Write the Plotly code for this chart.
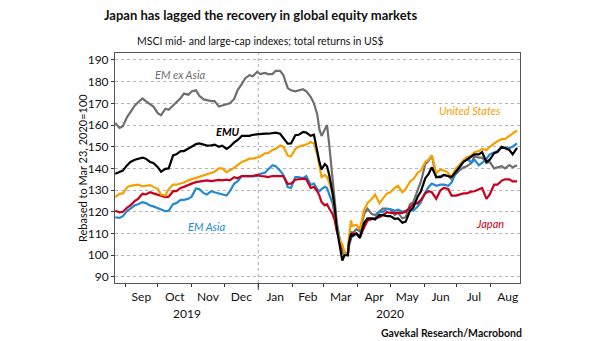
import plotly.graph_objects as go

dates = [
    # Aug 2019 - Feb 21 2020
    "2019-08-23", "2019-08-27", "2019-08-30", "2019-09-03", "2019-09-06", "2019-09-10",
    "2019-09-13", "2019-09-17", "2019-09-20", "2019-09-24", "2019-09-27", "2019-10-01",
    "2019-10-04", "2019-10-08", "2019-10-11", "2019-10-15", "2019-10-18", "2019-10-22",
    "2019-10-25", "2019-10-29", "2019-11-01", "2019-11-05", "2019-11-08", "2019-11-12",
    "2019-11-15", "2019-11-19", "2019-11-22", "2019-11-26", "2019-11-29", "2019-12-03",
    "2019-12-06", "2019-12-10", "2019-12-13", "2019-12-17", "2019-12-20", "2019-12-24",
    "2019-12-27", "2019-12-31", "2020-01-03", "2020-01-07", "2020-01-10", "2020-01-14",
    "2020-01-17", "2020-01-21", "2020-01-24", "2020-01-28", "2020-01-31", "2020-02-04",
    "2020-02-07", "2020-02-11", "2020-02-14", "2020-02-18", "2020-02-21",
    # crash
    "2020-02-24", "2020-02-26", "2020-02-28", "2020-03-02", "2020-03-04", "2020-03-06",
    "2020-03-09", "2020-03-11", "2020-03-13", "2020-03-16", "2020-03-18", "2020-03-20",
    "2020-03-23", "2020-03-24", "2020-03-26", "2020-03-27", "2020-03-31", "2020-04-03",
    "2020-04-07", "2020-04-10",
    # recovery
    "2020-04-14", "2020-04-17", "2020-04-21", "2020-04-24", "2020-04-28", "2020-05-01",
    "2020-05-05", "2020-05-08", "2020-05-12", "2020-05-15", "2020-05-19", "2020-05-22",
    "2020-05-26", "2020-05-29", "2020-06-02", "2020-06-05", "2020-06-08", "2020-06-12",
    "2020-06-16", "2020-06-19", "2020-06-23", "2020-06-26", "2020-06-30", "2020-07-03",
    "2020-07-07", "2020-07-10", "2020-07-14", "2020-07-17", "2020-07-21", "2020-07-24",
    "2020-07-28", "2020-07-31", "2020-08-04", "2020-08-07", "2020-08-11", "2020-08-14",
    "2020-08-18", "2020-08-21", "2020-08-25",
]

em_ex_asia = [
    161, 158.7, 159.5, 163.8, 166, 169, 170.5, 172.3, 171, 169.5,
    168.5, 165.5, 164.5, 167.5, 167, 169, 170.5, 172.5, 174.5, 174,
    175.5, 176, 173.5, 171.8, 171.5, 171, 171, 168.5, 169, 169.5,
    170, 172, 176, 179, 181.5, 183, 182.5, 184.5, 183.5, 184,
    183.5, 183.5, 185, 185, 183, 177, 176, 175.5, 176, 176.5,
    175.5, 173, 170,
    165, 158, 155, 158, 160, 151, 136, 124, 115, 106,
    101, 100.5, 100, 106, 111, 110, 112, 111, 119, 121.5,
    119, 118.5, 120, 121.5, 121.5, 121, 118.5, 119.5, 117, 117.5,
    123.5, 124.5, 130, 134, 142, 143.5, 146, 136, 136.5, 137,
    136.5, 135, 137.5, 139, 140.5, 141, 142.5, 145.5, 145, 145,
    142.5, 143, 140, 140.5, 141, 140, 141.5, 140.5, 141.5,
]

emu = [
    137.5, 138.3, 139, 141.5, 143, 144, 144.5, 145, 144.5, 143,
    142.5, 140.6, 138.5, 139.8, 140, 146, 146.5, 148, 148, 149,
    150, 151.2, 151.5, 151, 150.5, 150.6, 151, 150, 150.5, 149,
    150, 152, 153, 155, 155, 155, 155.5, 155.8, 156, 156,
    156, 156.3, 156.5, 156, 154, 151.4, 151.5, 155.3, 155.5, 156.8,
    156.5, 155, 155.5,
    147, 143, 139.5, 142, 141, 137, 129, 122, 112, 103,
    97.5, 100, 100, 105.5, 110, 109, 110, 108, 115, 117,
    117, 116.5, 118.5, 118.5, 118, 118, 116.8, 117, 115, 115.5,
    120.5, 122, 127, 129.5, 135.5, 137.5, 140.5, 136, 136, 137,
    136.5, 136, 138.5, 140.5, 143, 144, 145.5, 146.5, 146.5, 147.5,
    143, 144, 147, 147.5, 150, 149.5, 148.5, 146.5, 149.5,
]

united_states = [
    126.8, 128.3, 128.5, 131.4, 132, 132.3, 132.5, 131.8, 132, 132.3,
    131.5, 130.6, 128, 127.5, 130.5, 132.5, 132.5, 133, 133.5, 134.5,
    135, 135.8, 136.5, 137, 137.5, 138.3, 138.5, 140, 140, 138.3,
    139, 140.3, 141.5, 143, 143.5, 144.5, 144.5, 145, 145.5, 147,
    147, 148.5, 149, 150.6, 150, 146, 145.5, 149, 150, 150.6,
    151, 152.2, 151.5,
    146.5, 141, 136, 137, 136, 133.5, 128, 121, 112, 106.5,
    105, 101, 100, 108, 116, 113.5, 114, 112, 121, 124,
    126, 128, 124, 126, 128.5, 129, 131, 132, 129, 130.5,
    134, 135, 138, 139, 143, 144, 146, 138, 139.5, 139,
    138, 136, 140, 141.5, 144, 145, 146, 147.5, 148, 149,
    148.5, 150, 151.5, 152.5, 153.5, 153.5, 155, 156, 157.5,
]

em_asia = [
    117.5, 117.2, 118, 120.5, 121.5, 123, 123.5, 124.4, 124, 122.9,
    122.5, 121.8, 121, 120.3, 120.5, 123.5, 124, 125.5, 125.5, 126,
    127, 130.8, 130.5, 128.6, 128, 129.5, 129, 128.5, 128, 127.5,
    129.5, 133, 134, 136.5, 136.5, 136.5, 136.5, 136.5, 137.5, 138,
    139.5, 141.5, 141, 139, 137, 131.4, 131, 136, 136, 135.5,
    136.5, 132.5, 133,
    130.5, 129.5, 130.5, 131.5, 131, 128, 124, 119, 113, 106,
    102.5, 101, 100, 104, 108, 108.5, 110, 109, 113, 116,
    116.7, 117, 120, 120, 121.3, 121.3, 120.5, 121, 120, 120.5,
    121.3, 120.5, 122.5, 124.5, 129, 131.5, 133, 132, 132.5, 132.5,
    132, 133.5, 138, 140, 143.5, 145, 142.5, 144, 141.5, 142.5,
    144.5, 146.5, 147.5, 148, 149.9, 149.5, 149.5, 150, 151.5,
]

japan = [
    120.5, 119.8, 120, 122, 123, 125, 126, 128.3, 128, 129,
    128.5, 128, 127.5, 126.8, 127, 129.5, 129.5, 131, 131.5, 132.5,
    133, 133.7, 134, 134.3, 134.5, 134.2, 134.5, 134.7, 134.5, 134.8,
    134.5, 136, 135.5, 136.5, 136.5, 136.5, 136.5, 137, 136.5, 136.3,
    136, 136.5, 136.5, 136.5, 136.5, 132.9, 133, 134.8, 135, 135.3,
    135, 131, 131.5,
    129.5, 127.5, 124.5, 123, 123.5, 121.5, 119, 116, 111, 106.5,
    103, 101.5, 100, 105, 109, 110, 110, 108, 113, 116,
    116.7, 117, 117.5, 118.5, 119.8, 119.5, 119.3, 119.5, 119.5, 120,
    122, 123.5, 124, 125.5, 128.5, 129.5, 129, 126, 130, 131,
    130.5, 127.5, 127.5, 128, 128.5, 128.5, 129.3, 129.5, 130.5, 131,
    126, 128, 132.5, 132.5, 134.4, 135, 135, 134, 134,
]

series_names = ["EM ex Asia", "EMU", "United States", "EM Asia", "Japan"]
series_values = [em_ex_asia, emu, united_states, em_asia, japan]
series_colors = ["#6e6e6e", "#000000", "#f5a000", "#2389d2", "#c8001e"]

label_x = ["2019-10-21", "2019-12-04", "2020-07-13", "2019-11-15", "2020-07-31"]
label_y = [183.2, 156.8, 166.5, 113.3, 114.7]
label_bold = [False, True, False, False, False]

month_tick0 = "2019-08-01"
year_labels = ["2019", "2020"]

FONT = "Lato, Open Sans, sans-serif"

fig = go.Figure()
draw_order = [0, 3, 4, 2, 1]
for i in draw_order:
    fig.add_trace(go.Scatter(
        x=dates, y=series_values[i], mode="lines", name=series_names[i],
        line=dict(color=series_colors[i], width=2.2), showlegend=False,
    ))

annotations = []
for i, name in enumerate(series_names):
    txt = f"<i>{name}</i>"
    if label_bold[i]:
        txt = f"<b><i>{name}</i></b>"
    annotations.append(dict(
        x=label_x[i], y=label_y[i], xref="x", yref="y", text=txt, showarrow=False,
        font=dict(family=FONT, size=11, color=series_colors[i]),
        xanchor="center", yanchor="middle",
    ))

annotations += [
    dict(x=(260 - 115) / 405, y=(283 - 15) / 230, xref="paper", yref="paper",
         text="<b>Japan has lagged the recovery in global equity markets</b>",
         showarrow=False, font=dict(family=FONT, size=13, color="#111"),
         xanchor="center", yanchor="middle"),
    dict(x=(260 - 115) / 405, y=(283 - 41) / 230, xref="paper", yref="paper",
         text="MSCI mid- and large-cap indexes; total returns in US$",
         showarrow=False, font=dict(family=FONT, size=10.5, color="#111"),
         xanchor="center", yanchor="middle"),
    dict(x=(524 - 115) / 405, y=(283 - 333) / 230, xref="paper", yref="paper",
         text="<b>Gavekal Research/Macrobond</b>",
         showarrow=False, font=dict(family=FONT, size=10.5, color="#111"),
         xanchor="right", yanchor="middle"),
    dict(x=(82 - 115) / 405, y=0.5, xref="paper", yref="paper",
         text="Rebased to Mar 23, 2020=100", textangle=-90,
         showarrow=False, font=dict(family=FONT, size=11, color="#111"),
         xanchor="center", yanchor="middle"),
    dict(x=(187 - 115) / 405, y=(283 - 313) / 230, xref="paper", yref="paper",
         text=year_labels[0], showarrow=False,
         font=dict(family=FONT, size=12, color="#111"),
         xanchor="center", yanchor="middle"),
    dict(x=(390 - 115) / 405, y=(283 - 313) / 230, xref="paper", yref="paper",
         text=year_labels[1], showarrow=False,
         font=dict(family=FONT, size=12, color="#111"),
         xanchor="center", yanchor="middle"),
]

shapes = [
    dict(type="line", xref="x", yref="paper", x0="2020-01-01", x1="2020-01-01",
         y0=0, y1=1, line=dict(color="#aaaaaa", width=1, dash="dot"), layer="below"),
    dict(type="line", xref="x", yref="paper", x0="2020-01-01", x1="2020-01-01",
         y0=0, y1=-0.03, line=dict(color="#333333", width=1)),
]

fig.update_layout(
    width=605, height=341,
    margin=dict(l=115, r=85, t=53, b=58),
    paper_bgcolor="white", plot_bgcolor="white",
    font=dict(family=FONT, size=12, color="#111"),
    annotations=annotations, shapes=shapes,
    xaxis=dict(
        type="date", range=["2019-08-22 20:00", "2020-08-27 17:00"],
        tick0=month_tick0, dtick="M1", tickformat="%b", ticklabelmode="period",
        ticks="outside", ticklen=3, tickcolor="#333", showgrid=False,
        showline=True, linecolor="#555", linewidth=1, mirror=True,
        tickfont=dict(family=FONT, size=12, color="#111"), zeroline=False,
    ),
    yaxis=dict(
        range=[87.2, 193.2], tick0=90, dtick=10, ticks="outside", ticklen=3,
        tickcolor="#333", showgrid=True, gridcolor="#b5b5b5", griddash="dot",
        gridwidth=1, showline=True, linecolor="#555", linewidth=1, mirror=True,
        tickfont=dict(family=FONT, size=12, color="#111"), zeroline=False,
    ),
)

fig.write_html("out.html")
